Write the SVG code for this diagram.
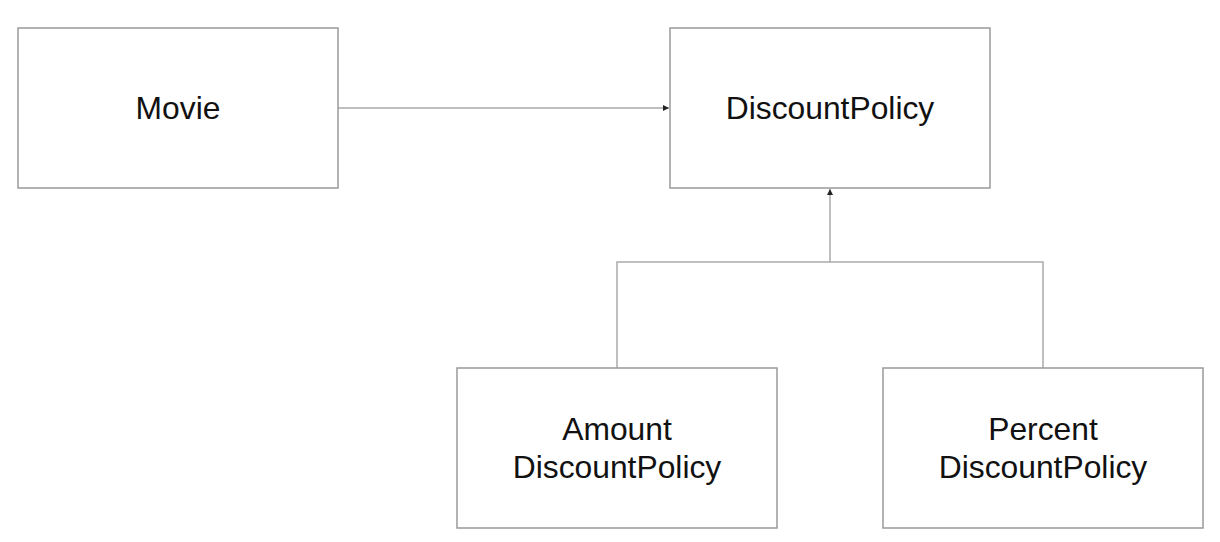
<svg xmlns="http://www.w3.org/2000/svg" width="1220" height="542" viewBox="0 0 1220 542">
<style>
.box{fill:#fff;stroke:#999;stroke-width:1.5}
.lbl{font-family:"Liberation Sans",Arial,sans-serif;font-size:31.8px;fill:#111;text-anchor:middle}
.conn{fill:none;stroke:#aaa;stroke-width:1.5}
</style>
<defs>
<marker id="arr" markerWidth="8" markerHeight="8" refX="6" refY="3" orient="auto" markerUnits="userSpaceOnUse">
<path d="M0,0 L6,3 L0,6 Z" fill="#222"/>
</marker>
</defs>
<rect width="1220" height="542" fill="#fff"/>
<g id="connectors">
<path class="conn" d="M338,108 H669" marker-end="url(#arr)"/>
<path class="conn" d="M830,262 V189" marker-end="url(#arr)"/>
<path class="conn" d="M617,368 V262 H1043 V368"/>
</g>
<g id="movie">
<rect class="box" x="18" y="28" width="320" height="160"/>
<text class="lbl" x="178" y="119">Movie</text>
</g>
<g id="discountPolicy">
<rect class="box" x="670" y="28" width="320" height="160"/>
<text class="lbl" x="830" y="119">DiscountPolicy</text>
</g>
<g id="amountDiscountPolicy">
<rect class="box" x="457" y="368" width="320" height="160"/>
<text class="lbl" x="617" y="440">Amount</text>
<text class="lbl" x="617" y="478">DiscountPolicy</text>
</g>
<g id="percentDiscountPolicy">
<rect class="box" x="883" y="368" width="320" height="160"/>
<text class="lbl" x="1043" y="440">Percent</text>
<text class="lbl" x="1043" y="478">DiscountPolicy</text>
</g>
</svg>
